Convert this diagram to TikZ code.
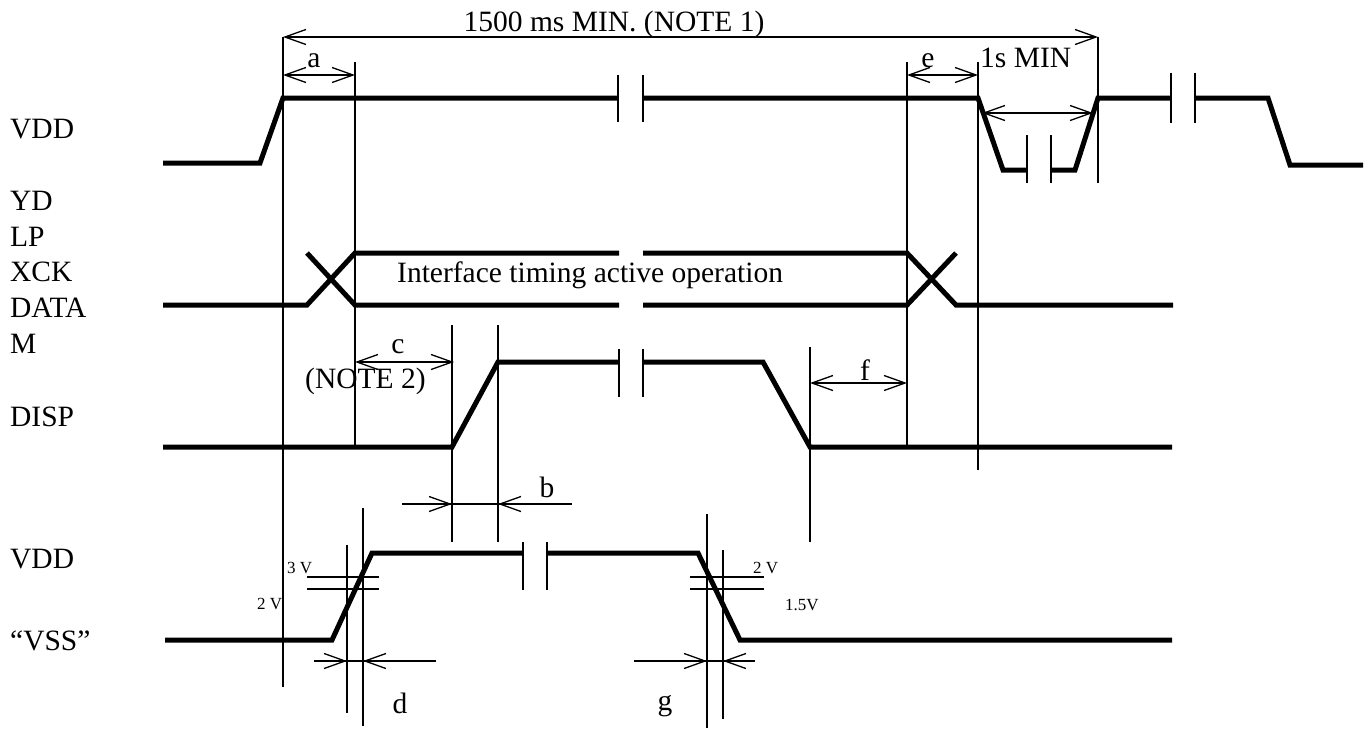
\documentclass[tikz,border=0pt]{standalone}
\usepackage{fontspec}
\setmainfont{Liberation Serif}
\usetikzlibrary{arrows.meta}

\begin{document}
\begin{tikzpicture}[x=1pt, y=-1pt, >={Straight Barb[length=21pt,width=15pt]}]
        \tikzstyle{sig}=[line width=5pt, line join=miter]
        \tikzstyle{tline}=[line width=1.3pt]
        \tikzstyle{brk}=[line width=2pt]
        \tikzstyle{lbl}=[font=\fontsize{29.5}{32}\selectfont, inner sep=0pt]
        \tikzstyle{vlbl}=[font=\fontsize{17}{19}\selectfont, inner sep=0pt, anchor=base west]
        \tikzstyle{signame}=[lbl, anchor=base west]

        \useasboundingbox (0,0) rectangle (1367,729);

        % Signal names
        \node[signame] (vdd1) at (10,138) {VDD};
        \node[signame] (yd)   at (10,210) {YD};
        \node[signame] (lp)   at (10,246) {LP};
        \node[signame] (xck)  at (10,281) {XCK};
        \node[signame] (data) at (10,317) {DATA};
        \node[signame] (m)    at (10,353) {M};
        \node[signame] (disp) at (10,426) {DISP};
        \node[signame] (vdd2) at (10,568) {VDD};
        \node[signame] (vss)  at (10,650) {``VSS''};

        % VDD (top)
        \draw[sig] (163,163) -- (260,163) -- (283,98) -- (618,98);
        \draw[sig] (643,98) -- (978,98) -- (1003,170) -- (1027,170);
        \draw[sig] (1051,170) -- (1075,170) -- (1098,98) -- (1171,98);
        \draw[sig] (1195,98) -- (1268,98) -- (1290,165) -- (1363,165);

        % Interface bus
        \draw[sig] (163,305) -- (307,305) -- (355,253) -- (619,253);
        \draw[sig] (307,253) -- (355,305) -- (619,305);
        \draw[sig] (643,253) -- (907,253) -- (956,305) -- (1173,305);
        \draw[sig] (643,305) -- (907,305) -- (956,253);
        \node[lbl, anchor=base west] (bus) at (397,282) {Interface timing active operation};

        % DISP
        \draw[sig] (163,447) -- (452,447) -- (498,362) -- (619,362);
        \draw[sig] (643,362) -- (763,362) -- (810,447) -- (1172,447);

        % VDD / VSS (bottom)
        \draw[sig] (165,640) -- (332,640) -- (372,553) -- (523,553);
        \draw[sig] (547,553) -- (698,553) -- (740,640) -- (1172,640);

        % Break marks
        \foreach \x/\ya/\yb in {618/75/122, 643/75/122, 1027/135/183, 1051/135/183,
                                1171/73/123, 1195/73/123, 619/349/397, 643/349/397,
                                523/542/590, 547/542/590}
            \draw[brk] (\x,\ya) -- (\x,\yb);

        % Reference lines
        \foreach \x/\ya/\yb in {283/37/687, 355/62/447, 907/62/447, 978/62/470,
                                1098/37/183, 452/325/542, 498/325/542, 810/347/542,
                                347/545/713, 363/508/726, 707/514/728, 723/550/719}
            \draw[tline] (\x,\ya) -- (\x,\yb);

        % Threshold levels
        \foreach \y in {577,589} {
            \draw[tline] (307,\y) -- (379,\y);
            \draw[tline] (690,\y) -- (764,\y);
        }
        \node[vlbl] (th3)  at (287,573) {3 V};
        \node[vlbl] (th2)  at (257,609) {2 V};
        \node[vlbl] (th2r) at (753,573) {2 V};
        \node[vlbl] (th15) at (785,610) {1.5V};

        % Timing dimensions
        \draw[tline, <->] (283,37) -- (1098,37);
        \node[lbl, anchor=base] (note1) at (614,31) {1500 ms MIN. (NOTE 1)};

        \draw[tline, <->] (283,75) -- (355,75);
        \node[lbl, anchor=base] (a) at (314,67) {a};

        \draw[tline, <->] (907,75) -- (978,75);
        \node[lbl, anchor=base] (e) at (928,67) {e};

        \draw[tline, <->] (982,113) -- (1093,113);
        \node[lbl, anchor=base west] (off) at (980,67) {1s MIN};

        \draw[tline, <->] (355,362) -- (454,362);
        \node[lbl, anchor=base] (c) at (398,353) {c};
        \node[lbl, anchor=base west] (note2) at (305,388) {(NOTE 2)};

        \draw[tline, <->] (810,383) -- (907,383);
        \node[lbl, anchor=base] (f) at (865,380) {f};

        \draw[tline] (402,504) -- (572,504);
        \draw[tline, ->] (402,504) -- (452,504);
        \draw[tline, ->] (572,504) -- (498,504);
        \node[lbl, anchor=base] (b) at (547,497) {b};

        \draw[tline] (314,661) -- (436,661);
        \draw[tline, ->] (314,661) -- (347,661);
        \draw[tline, ->] (436,661) -- (363,661);
        \node[lbl, anchor=base] (d) at (400,713) {d};

        \draw[tline] (634,661) -- (755,661);
        \draw[tline, ->] (634,661) -- (707,661);
        \draw[tline, ->] (755,661) -- (723,661);
        \node[lbl, anchor=base] (g) at (665,710) {g};
\end{tikzpicture}
\end{document}
